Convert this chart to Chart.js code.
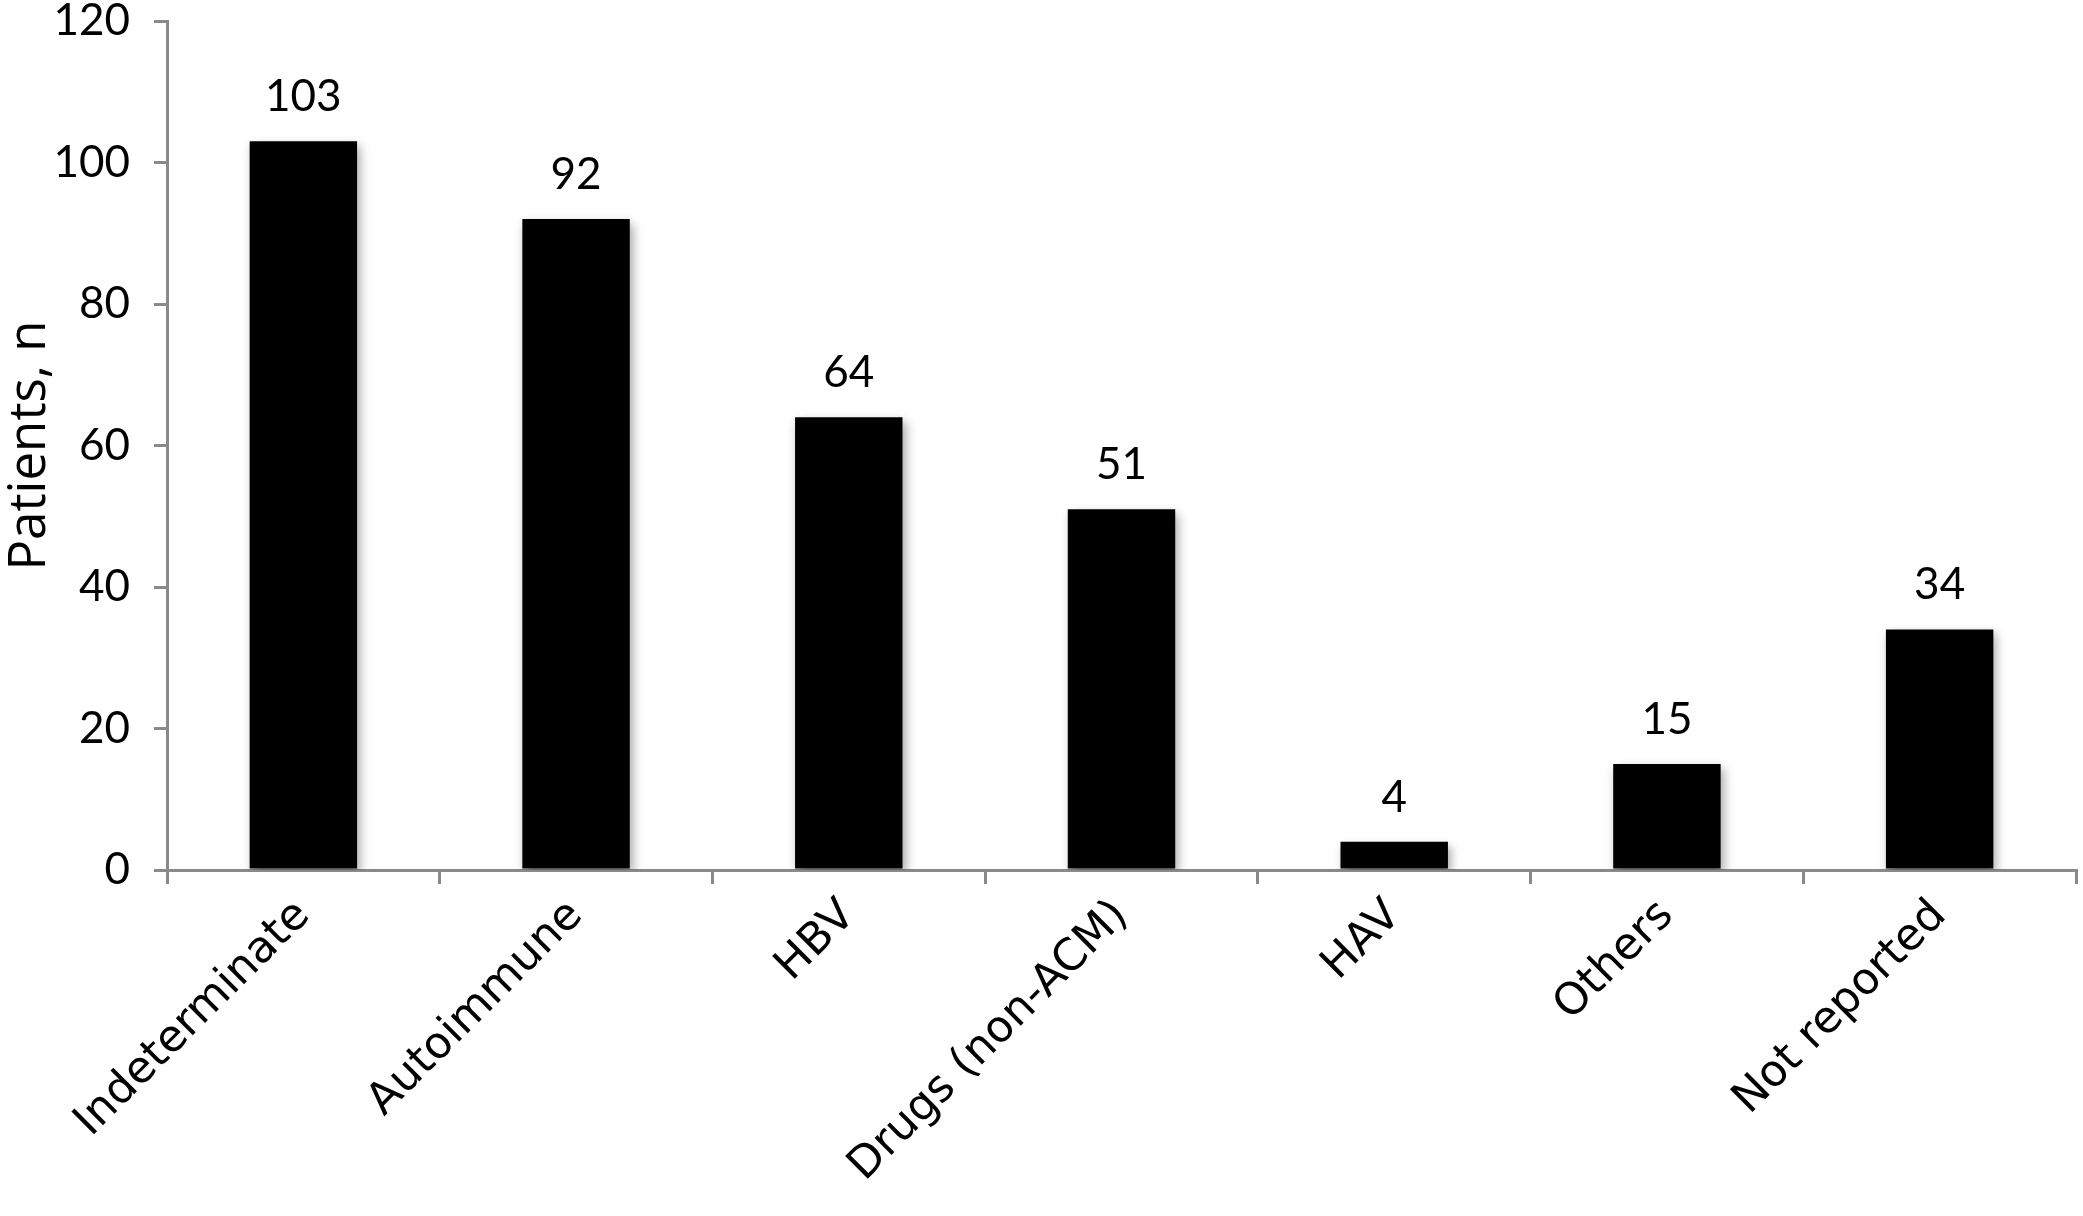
<!DOCTYPE html>
<html>
<head>
<meta charset="utf-8">
<script src="https://cdn.jsdelivr.net/npm/chart.js@4"></script>
<style>
html,body{margin:0;padding:0;background:#fff;}
#wrap{width:2083px;height:1216px;position:relative;}
</style>
</head>
<body>
<div id="wrap"><canvas id="c" width="2083" height="1216"></canvas></div>
<script>
const categories = ["Indeterminate", "Autoimmune", "HBV", "Drugs (non-ACM)", "HAV", "Others", "Not reported"];
const patients = [103, 92, 64, 51, 4, 15, 34];
const yTicks = [0, 20, 40, 60, 80, 100, 120];
const yTitle = "Patients, n";

const FONT = "Lato";
const CAT_FONT = "DejaVu Sans";
const TITLE_FONT = "Open Sans";
const AXIS = "#8a8a8a";

const shadowPlugin = {
  id: 'barShadow',
  beforeDatasetDraw(chart) {
    const ctx = chart.ctx;
    ctx.save();
    ctx.shadowColor = 'rgba(0,0,0,0.35)';
    ctx.shadowBlur = 10;
    ctx.shadowOffsetX = 3;
    ctx.shadowOffsetY = 5;
  },
  afterDatasetDraw(chart) {
    chart.ctx.restore();
  }
};

const valueLabels = {
  id: 'valueLabels',
  afterDatasetsDraw(chart) {
    const ctx = chart.ctx;
    const meta = chart.getDatasetMeta(0);
    ctx.save();
    ctx.fillStyle = '#000';
    ctx.font = '44px ' + FONT;
    ctx.textAlign = 'center';
    ctx.textBaseline = 'alphabetic';
    meta.data.forEach((bar, i) => {
      ctx.fillText(String(chart.data.datasets[0].data[i]), bar.x, bar.y - 30);
    });
    ctx.restore();
  }
};

new Chart(document.getElementById('c'), {
  type: 'bar',
  data: {
    labels: categories,
    datasets: [{
      data: patients,
      backgroundColor: '#000',
      borderWidth: 0,
      barPercentage: 0.394,
      categoryPercentage: 1.0
    }]
  },
  options: {
    responsive: false,
    animation: false,
    layout: { padding: { top: 21, right: 7, left: 0, bottom: 0 } },
    plugins: { legend: { display: false }, tooltip: { enabled: false } },
    scales: {
      x: {
        grid: {
          display: true,
          drawOnChartArea: false,
          drawTicks: true,
          tickLength: 14,
          color: AXIS,
          lineWidth: 3,
          offset: true
        },
        border: { display: true, color: AXIS, width: 3 },
        ticks: {
          color: '#000',
          font: { family: CAT_FONT, size: 44 },
          maxRotation: 45,
          minRotation: 45,
          autoSkip: false,
          padding: 6
        },
        afterFit(scale) { scale.height = 346; scale.paddingLeft = 0; scale.paddingRight = 0; }
      },
      y: {
        min: 0,
        max: 120,
        afterBuildTicks(scale) { scale.ticks = yTicks.map(v => ({ value: v })); },
        grid: {
          display: true,
          drawOnChartArea: false,
          drawTicks: true,
          tickLength: 13,
          color: AXIS,
          lineWidth: 3
        },
        border: { display: true, color: AXIS, width: 3 },
        ticks: {
          color: '#000',
          font: { family: FONT, size: 44 },
          padding: 24
        },
        title: {
          display: true,
          text: yTitle,
          color: '#000',
          font: { family: TITLE_FONT, size: 51 },
          padding: { top: 0, bottom: 0 }
        },
        afterFit(scale) { scale.width = 167; scale.paddingTop = 0; scale.paddingBottom = 0; }
      }
    }
  },
  plugins: [shadowPlugin, valueLabels]
});
</script>
</body>
</html>
